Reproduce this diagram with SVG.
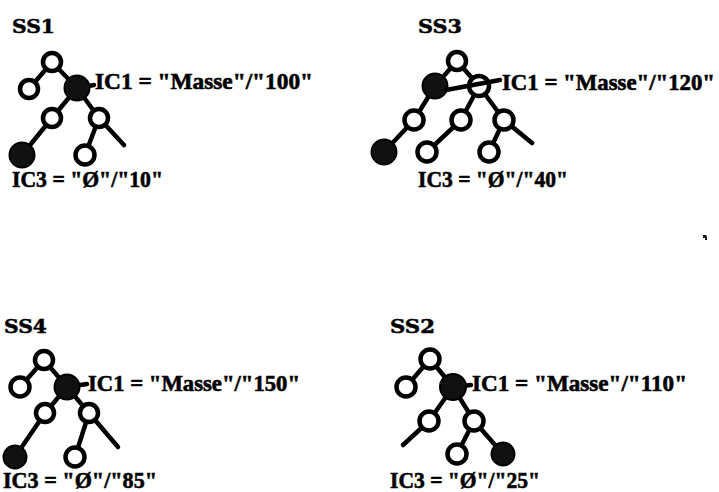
<svg xmlns="http://www.w3.org/2000/svg" width="719" height="492" viewBox="0 0 719 492">
<style>
.edge{stroke:#000;stroke-width:4.5;stroke-linecap:round;fill:none}
.open{fill:#fff;stroke:#000;stroke-width:4.5}
.filled{fill:#111;stroke:#000;stroke-width:2}
.lbl{font-family:"DejaVu Serif",serif;font-weight:bold;font-size:18px;fill:#000;stroke:#000;stroke-width:0.5}
.ic{font-family:"Liberation Serif",serif;font-weight:bold;font-size:23px;fill:#000;stroke:#000;stroke-width:0.6}
</style>
<rect width="719" height="492" fill="#fff"/>
<g id="connectors">
  <line class="edge" x1="52" y1="62" x2="29" y2="89"/>
  <line class="edge" x1="52" y1="62" x2="77" y2="88"/>
  <line class="edge" x1="77" y1="88" x2="52" y2="118"/>
  <line class="edge" x1="77" y1="88" x2="99" y2="118"/>
  <line class="edge" x1="52" y1="118" x2="22" y2="155"/>
  <line class="edge" x1="99" y1="118" x2="85" y2="155"/>
  <line class="edge" x1="99" y1="118" x2="124" y2="145"/>
  <line class="edge" x1="457" y1="61" x2="435" y2="86"/>
  <line class="edge" x1="457" y1="61" x2="479" y2="86"/>
  <line class="edge" x1="435" y1="86" x2="414" y2="120"/>
  <line class="edge" x1="479" y1="86" x2="461" y2="120"/>
  <line class="edge" x1="479" y1="86" x2="504" y2="120"/>
  <line class="edge" x1="414" y1="120" x2="384" y2="152"/>
  <line class="edge" x1="461" y1="120" x2="427" y2="152"/>
  <line class="edge" x1="504" y1="120" x2="489" y2="152"/>
  <line class="edge" x1="504" y1="120" x2="532" y2="143"/>
  <line class="edge" x1="44" y1="360" x2="20" y2="387"/>
  <line class="edge" x1="44" y1="360" x2="67" y2="387"/>
  <line class="edge" x1="67" y1="387" x2="45" y2="413"/>
  <line class="edge" x1="67" y1="387" x2="89" y2="413"/>
  <line class="edge" x1="45" y1="413" x2="15" y2="457"/>
  <line class="edge" x1="89" y1="413" x2="75" y2="457"/>
  <line class="edge" x1="89" y1="413" x2="118" y2="447"/>
  <line class="edge" x1="430" y1="359" x2="406" y2="387"/>
  <line class="edge" x1="430" y1="359" x2="453" y2="387"/>
  <line class="edge" x1="453" y1="387" x2="429" y2="421"/>
  <line class="edge" x1="453" y1="387" x2="474" y2="421"/>
  <line class="edge" x1="429" y1="421" x2="403" y2="445"/>
  <line class="edge" x1="474" y1="421" x2="457" y2="454"/>
  <line class="edge" x1="474" y1="421" x2="503" y2="454"/>
  <line class="edge" x1="77" y1="88" x2="94" y2="85"/>
  <line class="edge" x1="67" y1="387" x2="87" y2="384"/>
  <line class="edge" x1="453" y1="387" x2="471" y2="385"/>
</g>
<g id="ss1">
  <text class="lbl" x="12" y="33" textLength="43" lengthAdjust="spacingAndGlyphs">SS1</text>
  <g id="ss1-n0"><circle class="open" cx="52" cy="62" r="9"/></g>
  <g id="ss1-n1"><circle class="open" cx="29" cy="89" r="9"/></g>
  <g id="ss1-n2"><circle class="filled" cx="77" cy="88" r="12.5"/></g>
  <g id="ss1-n3"><circle class="open" cx="52" cy="118" r="9"/></g>
  <g id="ss1-n4"><circle class="open" cx="99" cy="118" r="9"/></g>
  <g id="ss1-n5"><circle class="filled" cx="22" cy="155" r="12.5"/></g>
  <g id="ss1-n6"><circle class="open" cx="85" cy="155" r="9.5"/></g>
  <text class="ic" x="95" y="89" textLength="218" lengthAdjust="spacingAndGlyphs">IC1 = "Masse"/"100"</text>
  <text class="ic" x="12" y="187" textLength="151" lengthAdjust="spacingAndGlyphs">IC3 = "Ø"/"10"</text>
</g>
<g id="ss3">
  <text class="lbl" x="418" y="33" textLength="44" lengthAdjust="spacingAndGlyphs">SS3</text>
  <g id="ss3-n0"><circle class="open" cx="457" cy="61" r="9"/></g>
  <g id="ss3-n1"><circle class="filled" cx="435" cy="86" r="12.5"/></g>
  <g id="ss3-n2"><circle class="open" cx="479" cy="86" r="10"/></g>
  <g id="ss3-n3"><circle class="open" cx="414" cy="120" r="9.5"/></g>
  <g id="ss3-n4"><circle class="open" cx="461" cy="120" r="9.5"/></g>
  <g id="ss3-n5"><circle class="open" cx="504" cy="120" r="9.5"/></g>
  <g id="ss3-n6"><circle class="filled" cx="384" cy="152" r="12.5"/></g>
  <g id="ss3-n7"><circle class="open" cx="427" cy="152" r="9.5"/></g>
  <g id="ss3-n8"><circle class="open" cx="489" cy="152" r="9.5"/></g>
  <line class="edge" x1="446" y1="90" x2="500" y2="80"/>
  <text class="ic" x="502" y="90" textLength="213" lengthAdjust="spacingAndGlyphs">IC1 = "Masse"/"120"</text>
  <text class="ic" x="418" y="187" textLength="150" lengthAdjust="spacingAndGlyphs">IC3 = "Ø"/"40"</text>
</g>
<g id="ss4">
  <text class="lbl" x="4" y="333" textLength="43" lengthAdjust="spacingAndGlyphs">SS4</text>
  <g id="ss4-n0"><circle class="open" cx="44" cy="360" r="9"/></g>
  <g id="ss4-n1"><circle class="open" cx="20" cy="387" r="9.5"/></g>
  <g id="ss4-n2"><circle class="filled" cx="67" cy="387" r="12.5"/></g>
  <g id="ss4-n3"><circle class="open" cx="45" cy="413" r="9"/></g>
  <g id="ss4-n4"><circle class="open" cx="89" cy="413" r="9"/></g>
  <g id="ss4-n5"><circle class="filled" cx="15" cy="457" r="11.5"/></g>
  <g id="ss4-n6"><circle class="open" cx="75" cy="457" r="9.5"/></g>
  <text class="ic" x="88" y="391" textLength="212" lengthAdjust="spacingAndGlyphs">IC1 = "Masse"/"150"</text>
  <text class="ic" x="3" y="488" textLength="154" lengthAdjust="spacingAndGlyphs">IC3 = "Ø"/"85"</text>
</g>
<g id="ss2">
  <text class="lbl" x="390" y="333" textLength="45" lengthAdjust="spacingAndGlyphs">SS2</text>
  <g id="ss2-n0"><circle class="open" cx="430" cy="359" r="9.5"/></g>
  <g id="ss2-n1"><circle class="open" cx="406" cy="387" r="9.5"/></g>
  <g id="ss2-n2"><circle class="filled" cx="453" cy="387" r="13"/></g>
  <g id="ss2-n3"><circle class="open" cx="429" cy="421" r="9.5"/></g>
  <g id="ss2-n4"><circle class="open" cx="474" cy="421" r="9.5"/></g>
  <g id="ss2-n5"><circle class="open" cx="457" cy="454" r="9.5"/></g>
  <g id="ss2-n6"><circle class="filled" cx="503" cy="454" r="11.5"/></g>
  <text class="ic" x="472" y="391" textLength="215" lengthAdjust="spacingAndGlyphs">IC1 = "Masse"/"110"</text>
  <text class="ic" x="390" y="488" textLength="150" lengthAdjust="spacingAndGlyphs">IC3 = "Ø"/"25"</text>
</g>
<path d="M703 235 h3 l1 2 v3 h-2 v-2 h-2 z" fill="#111"/>
</svg>
